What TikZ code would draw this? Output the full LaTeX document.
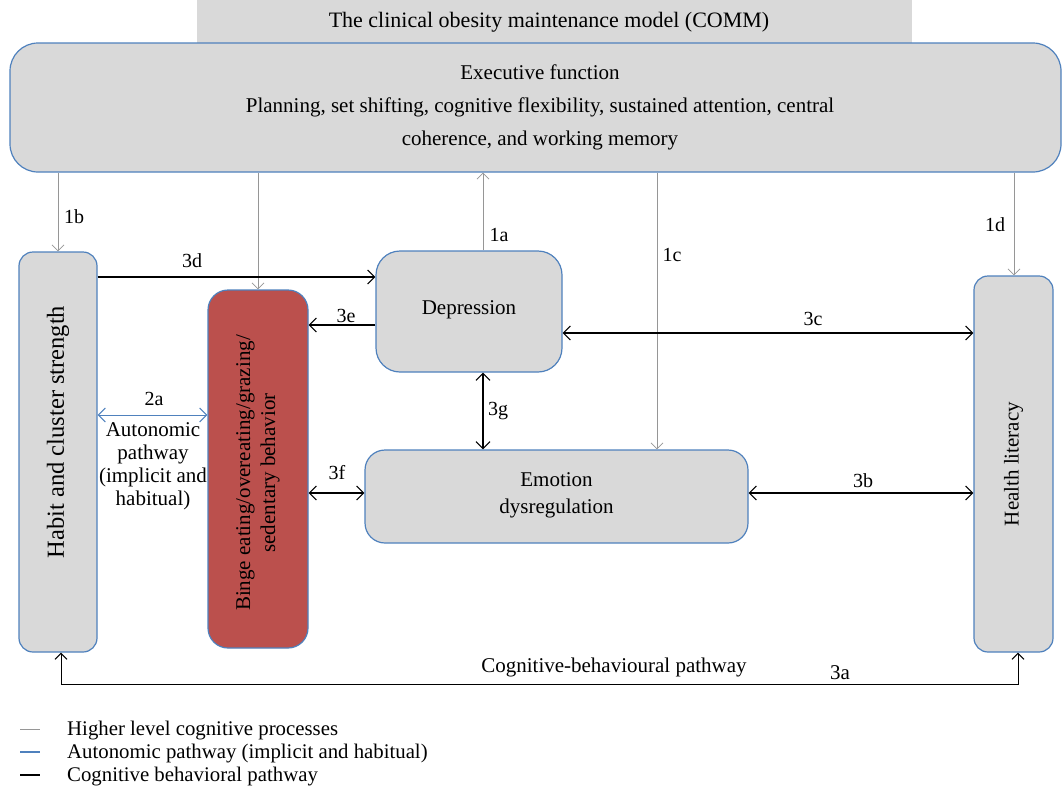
\documentclass[tikz,border=0pt]{standalone}
\usepackage{fontspec}
\setmainfont{Liberation Serif}
\usetikzlibrary{arrows.meta}
\definecolor{boxgray}{RGB}{217,217,217}
\definecolor{boxblue}{RGB}{79,129,189}
\definecolor{boxred}{RGB}{187,80,77}
\definecolor{arrgray}{RGB}{150,150,150}
\tikzset{
  box/.style={draw=boxblue, line width=1.2pt, fill=boxgray, inner sep=0pt},
  hi/.style={draw=arrgray, line width=0.8pt, -{Straight Barb[length=6pt,width=12pt]}},
  cb/.style={draw=black, line width=1.1pt, -{Straight Barb[length=7pt,width=14pt]}},
  cbb/.style={draw=black, line width=1.1pt, {Straight Barb[length=7pt,width=14pt]}-{Straight Barb[length=7pt,width=14pt]}},
  au/.style={draw=boxblue, line width=1pt, {Straight Barb[length=7pt,width=14pt]}-{Straight Barb[length=7pt,width=14pt]}},
  lbl/.style={font=\fontsize{20}{22}\selectfont, inner sep=0pt},
  big/.style={font=\fontsize{21}{25}\selectfont, inner sep=0pt, align=center},
  leg/.style={font=\fontsize{20.8}{22}\selectfont, anchor=west, inner sep=0pt},
}
\begin{document}
\begin{tikzpicture}[x=1pt,y=-1pt]
\useasboundingbox (0,0) rectangle (1062,798);
% title
\fill[boxgray] (197,0) rectangle (912,43);
\node[font=\fontsize{22}{24}\selectfont, inner sep=0pt] (title) at (549,22) {The clinical obesity maintenance model (COMM)};
% executive function
\node[box, rounded corners=28pt, minimum width=1051pt, minimum height=129pt] (exec) at (535.5,107.5) {};
\node[font=\fontsize{21}{33}\selectfont, align=center, inner sep=0pt] (exectxt) at (540,107.5) {Executive function\\Planning, set shifting, cognitive flexibility, sustained attention, central\\coherence, and working memory};
% boxes
\node[box, rounded corners=14pt, minimum width=78pt, minimum height=400pt] (habit) at (58,452) {};
\node[big, font=\fontsize{24.5}{26}\selectfont, rotate=90] (habittxt) at (58,432) {Habit and cluster strength};
\node[box, fill=boxred, rounded corners=20pt, minimum width=100pt, minimum height=358pt] (binge) at (258,469) {};
\node[big, rotate=90] (bingetxt) at (258,473) {Binge eating/overeating/grazing/\\sedentary behavior};
\node[box, rounded corners=24pt, minimum width=186pt, minimum height=121pt] (dep) at (469,311.5) {};
\node[big] (deptxt) at (469,310) {Depression};
\node[box, rounded corners=20pt, minimum width=383pt, minimum height=93pt] (emo) at (556.5,496.5) {};
\node[big, font=\fontsize{21}{27}\selectfont] (emotxt) at (556.5,495) {Emotion\\dysregulation};
\node[box, rounded corners=14pt, minimum width=79pt, minimum height=376pt] (health) at (1013.5,464) {};
\node[big, rotate=90] (healthtxt) at (1013.5,464) {Health literacy};
% higher level cognitive processes (gray)
\draw[hi] (exec.south -| habit.north) -- (habit.north);
\node[lbl] (l1b) at (74,217) {1b};
\draw[hi] (exec.south -| binge.north) -- (binge.north);
\draw[hi] (dep.north -| 483,0) -- (exec.south -| 483,0);
\node[lbl] (l1a) at (499,235) {1a};
\draw[hi] (exec.south -| 657,0) -- (emo.north -| 657,0);
\node[lbl] (l1c) at (672,255) {1c};
\draw[hi] (exec.south -| 1014,0) -- (health.north -| 1014,0);
\node[lbl] (l1d) at (995,225) {1d};
% cognitive behavioural (black)
\draw[cb] (habit.east |- 0,277) -- (dep.west |- 0,277);
\node[lbl] (l3d) at (192,261) {3d};
\draw[cb] (dep.west |- 0,325) -- (binge.east |- 0,325);
\node[lbl] (l3e) at (346,316) {3e};
\draw[cbb] (dep.east |- 0,333) -- (health.west |- 0,333);
\node[lbl] (l3c) at (813,319) {3c};
\draw[cbb] (dep.south -| 483,0) -- (emo.north -| 483,0);
\node[lbl] (l3g) at (498,411) {3g};
\draw[cbb] (binge.east |- 0,493) -- (emo.west |- 0,493);
\node[lbl] (l3f) at (337,473) {3f};
\draw[cbb] (emo.east |- 0,493) -- (health.west |- 0,493);
\node[lbl] (l3b) at (863,481) {3b};
% autonomic (blue)
\draw[au] (habit.east |- 0,415) -- (binge.west |- 0,415);
\node[lbl] (l2a) at (154,399) {2a};
\node[big, font=\fontsize{21}{23}\selectfont] (autotxt) at (153,466) {Autonomic\\pathway\\(implicit and\\habitual)};
% 3a
\draw[draw=black, line width=1pt, {Straight Barb[length=6pt,width=12pt]}-{Straight Barb[length=6pt,width=12pt]}] (habit.south -| 61,0) -- (61,684) -- (1018,684) -- (health.south -| 1018,0);
\node[font=\fontsize{21}{22}\selectfont, inner sep=0pt] (cbp) at (614,667) {Cognitive-behavioural pathway};
\node[font=\fontsize{21}{22}\selectfont, inner sep=0pt] (l3a) at (840,673) {3a};
% legend
\draw[arrgray, line width=1pt] (20,729) -- (40,729);
\node[leg] (lg1) at (67,731) {Higher level cognitive processes};
\draw[boxblue, line width=1.2pt] (20,752) -- (40,752);
\node[leg] (lg2) at (67,754) {Autonomic pathway (implicit and habitual)};
\draw[black, line width=1.2pt] (20,775) -- (40,775);
\node[leg] (lg3) at (67,777) {Cognitive behavioral pathway};
\end{tikzpicture}
\end{document}
